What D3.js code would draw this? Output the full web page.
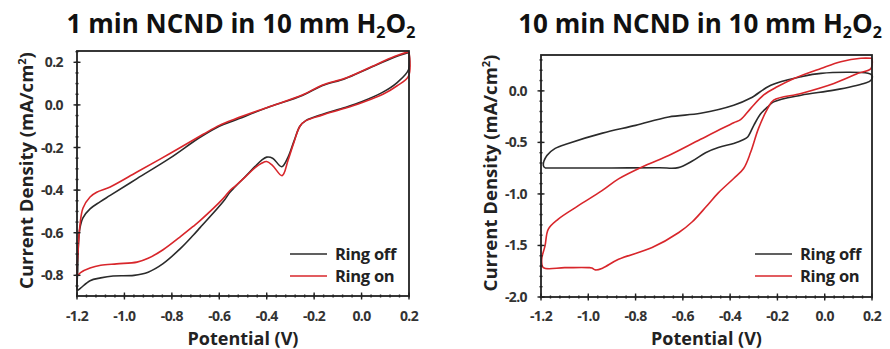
<!DOCTYPE html>
<html>
<head>
<meta charset="utf-8">
<script src="https://cdn.jsdelivr.net/npm/d3@7"></script>
<style>
  html, body { margin: 0; padding: 0; background: #fff; }
  svg { display: block; }
  text { font-family: "Open Sans", Lato, sans-serif; font-weight: 700; }
</style>
</head>
<body>
<svg id="chart" width="890" height="349"></svg>
<script>
// Potential axis, shared by both panels (V)
const potentialTicks = [-1.2, -1.0, -0.8, -0.6, -0.4, -0.2, 0.0, 0.2];
const currentTicks1 = [0.2, 0.0, -0.2, -0.4, -0.6, -0.8];
const currentTicks10 = [0.0, -0.5, -1.0, -1.5, -2.0];
const seriesNames = ["Ring off", "Ring on"];

// 1 min NCND: cyclic voltammograms [potential V, current density mA/cm²]
const ringOff1 = [
  [0.2, 0.246], [0.141, 0.225], [0.027, 0.17], [-0.07, 0.123], [-0.167, 0.09],
  [-0.25, 0.044], [-0.393, -0.011], [-0.534, -0.072], [-0.6, -0.1], [-0.681, -0.152],
  [-0.808, -0.25], [-0.947, -0.346], [-1.06, -0.425], [-1.103, -0.455], [-1.145, -0.488],
  [-1.175, -0.53], [-1.188, -0.58], [-1.194, -0.65], [-1.197, -0.78], [-1.198, -0.87],
  [-1.185, -0.86], [-1.145, -0.825], [-1.1, -0.812], [-1.048, -0.803], [-0.96, -0.8],
  [-0.9, -0.785], [-0.837, -0.745], [-0.76, -0.67], [-0.71, -0.612], [-0.68, -0.575],
  [-0.584, -0.455], [-0.555, -0.41], [-0.534, -0.385], [-0.49, -0.336], [-0.45, -0.29],
  [-0.42, -0.258], [-0.4, -0.245], [-0.375, -0.25], [-0.337, -0.29], [-0.31, -0.245],
  [-0.285, -0.17], [-0.26, -0.1], [-0.235, -0.074], [-0.167, -0.045], [-0.07, -0.012],
  [0.0, 0.015], [0.09, 0.06], [0.15, 0.105], [0.198, 0.165], [0.2, 0.246]
];
const ringOn1 = [
  [0.2, 0.25], [0.141, 0.228], [0.027, 0.172], [-0.07, 0.125], [-0.167, 0.092],
  [-0.25, 0.046], [-0.393, -0.01], [-0.534, -0.066], [-0.6, -0.096], [-0.668, -0.138],
  [-0.808, -0.228], [-0.947, -0.315], [-1.06, -0.385], [-1.117, -0.41], [-1.145, -0.432],
  [-1.175, -0.485], [-1.187, -0.56], [-1.195, -0.68], [-1.198, -0.8],
  [-1.185, -0.787], [-1.145, -0.766], [-1.1, -0.753], [-1.033, -0.746], [-0.947, -0.738],
  [-0.9, -0.72], [-0.837, -0.68], [-0.76, -0.615], [-0.71, -0.57], [-0.681, -0.543],
  [-0.584, -0.44], [-0.555, -0.402], [-0.534, -0.382], [-0.49, -0.338], [-0.45, -0.296],
  [-0.42, -0.273], [-0.4, -0.266], [-0.375, -0.285], [-0.335, -0.332], [-0.31, -0.26],
  [-0.285, -0.175], [-0.26, -0.1], [-0.235, -0.074], [-0.167, -0.048], [-0.07, -0.016],
  [0.0, 0.01], [0.09, 0.05], [0.15, 0.09], [0.198, 0.135], [0.2, 0.25]
];

// 10 min NCND
const ringOff10 = [
  [-1.183, -0.748], [-1.1, -0.749], [-0.9, -0.748], [-0.7, -0.746], [-0.619, -0.745],
  [-0.56, -0.68], [-0.504, -0.6], [-0.45, -0.55], [-0.385, -0.51], [-0.345, -0.475],
  [-0.326, -0.448], [-0.3, -0.334], [-0.27, -0.22], [-0.241, -0.156], [-0.216, -0.107],
  [-0.1, -0.042], [0.039, 0.007], [0.166, 0.072], [0.196, 0.104], [0.2, 0.15],
  [0.183, 0.17], [-0.016, 0.17], [-0.1, 0.137], [-0.228, 0.055], [-0.313, -0.07],
  [-0.385, -0.14], [-0.525, -0.218], [-0.66, -0.253], [-0.8, -0.335], [-0.94, -0.41],
  [-1.085, -0.51], [-1.14, -0.558], [-1.175, -0.627], [-1.19, -0.724], [-1.183, -0.748]
];
const ringOn10 = [
  [0.2, 0.316], [0.153, 0.316], [0.068, 0.283], [-0.016, 0.218], [-0.13, 0.121],
  [-0.199, 0.042], [-0.258, -0.04], [-0.313, -0.17], [-0.356, -0.28], [-0.385, -0.31],
  [-0.525, -0.47], [-0.66, -0.627], [-0.759, -0.724], [-0.872, -0.854], [-0.942, -0.968],
  [-1.042, -1.114], [-1.127, -1.244], [-1.169, -1.341], [-1.183, -1.504], [-1.197, -1.634],
  [-1.19, -1.715], [-1.1, -1.715], [-1.0, -1.715], [-0.985, -1.718], [-0.97, -1.737],
  [-0.94, -1.72], [-0.872, -1.634], [-0.73, -1.52], [-0.617, -1.374], [-0.56, -1.27],
  [-0.5, -1.12], [-0.45, -0.99], [-0.385, -0.85], [-0.343, -0.753], [-0.313, -0.594],
  [-0.28, -0.364], [-0.241, -0.17], [-0.216, -0.09], [-0.1, -0.025], [0.039, 0.072],
  [0.141, 0.17], [0.196, 0.218], [0.2, 0.316]
];

const colors = { off: "#2b2b2b", on: "#d8262b" };

const panels = [
  {
    title: ["1 min NCND in 10 mm H", "2", "O", "2"],
    left: 77, right: 409, top: 51, bottom: 296,
    yDomain: [-0.897, 0.253], yTicks: currentTicks1, yMinorStep: 0.05, yFormat: d3.format(".1f"),
    off: ringOff1, on: ringOn1, titleX: 241, legendX: 290
  },
  {
    title: ["10 min NCND in 10 mm H", "2", "O", "2"],
    left: 541, right: 872, top: 55, bottom: 297,
    yDomain: [-2.0, 0.348], yTicks: currentTicks10, yMinorStep: 0.1, yFormat: d3.format(".1f"),
    off: ringOff10, on: ringOn10, titleX: 700, legendX: 755
  }
];

const svg = d3.select("#chart");

panels.forEach(p => {
  const x = d3.scaleLinear().domain([-1.2, 0.2]).range([p.left, p.right]);
  const y = d3.scaleLinear().domain(p.yDomain).range([p.bottom, p.top]);
  const g = svg.append("g");

  // title with subscripts
  const t = g.append("text")
    .attr("x", p.titleX).attr("y", 33)
    .attr("text-anchor", "middle")
    .attr("font-size", 26).attr("fill", "#111");
  p.title.forEach((s, i) => {
    const sub = i % 2 === 1;
    t.append("tspan")
      .attr("font-size", sub ? 16 : 26)
      .attr("dy", sub ? 5 : (i === 0 ? 0 : -5))
      .text(s);
  });

  // curves
  const line = d3.line().x(d => x(d[0])).y(d => y(d[1])).curve(d3.curveCatmullRom.alpha(0.5));
  g.append("path").datum(p.off).attr("d", line)
    .attr("fill", "none").attr("stroke", colors.off).attr("stroke-width", 1.6);
  g.append("path").datum(p.on).attr("d", line)
    .attr("fill", "none").attr("stroke", colors.on).attr("stroke-width", 1.6);

  // frame
  g.append("rect")
    .attr("x", p.left).attr("y", p.top)
    .attr("width", p.right - p.left).attr("height", p.bottom - p.top)
    .attr("fill", "none").attr("stroke", "#222").attr("stroke-width", 1.8);

  // bottom axis: major + minor ticks crossing the frame line
  const xMinor = d3.range(-1.2, 0.2001, 0.04);
  g.selectAll(".xminor").data(xMinor).join("line")
    .attr("x1", d => x(d)).attr("x2", d => x(d))
    .attr("y1", p.bottom - 1.5).attr("y2", p.bottom + 1.5)
    .attr("stroke", "#222").attr("stroke-width", 1.4);
  g.selectAll(".xmajor").data(potentialTicks).join("line")
    .attr("x1", d => x(d)).attr("x2", d => x(d))
    .attr("y1", p.bottom - 3.5).attr("y2", p.bottom + 3.5)
    .attr("stroke", "#222").attr("stroke-width", 1.4);
  g.selectAll(".xlab").data(potentialTicks).join("text")
    .attr("x", d => x(d)).attr("y", 320.5)
    .attr("text-anchor", "middle").attr("font-size", 14).attr("letter-spacing", -0.6)
    .attr("fill", "#333")
    .text(d => d3.format(".1f")(d).replace("−", "-"));

  // left axis
  const yMinor = d3.range(Math.ceil(p.yDomain[0] / p.yMinorStep) * p.yMinorStep, p.yDomain[1], p.yMinorStep);
  g.selectAll(".yminor").data(yMinor).join("line")
    .attr("y1", d => y(d)).attr("y2", d => y(d))
    .attr("x1", p.left - 1.5).attr("x2", p.left + 1.5)
    .attr("stroke", "#222").attr("stroke-width", 1.4);
  g.selectAll(".ymajor").data(p.yTicks).join("line")
    .attr("y1", d => y(d)).attr("y2", d => y(d))
    .attr("x1", p.left - 3.5).attr("x2", p.left + 3.5)
    .attr("stroke", "#222").attr("stroke-width", 1.4);
  g.selectAll(".ylab").data(p.yTicks).join("text")
    .attr("x", p.left - 14).attr("y", d => y(d) + 5)
    .attr("text-anchor", "end").attr("font-size", 14).attr("letter-spacing", -0.6)
    .attr("fill", "#333")
    .text(d => p.yFormat(d).replace("−", "-"));

  // axis titles
  g.append("text")
    .attr("x", (p.left + p.right) / 2).attr("y", 344.5)
    .attr("text-anchor", "middle").attr("font-size", 18).attr("fill", "#222")
    .text("Potential (V)");
  const yl = g.append("text")
    .attr("transform", `translate(${p.left - 44},${(p.top + p.bottom) / 2 - 3}) rotate(-90)`)
    .attr("text-anchor", "middle").attr("font-size", 18.5).attr("fill", "#222");
  yl.append("tspan").text("Current Density (mA/cm");
  yl.append("tspan").attr("font-size", 11).attr("dy", -7).text("2");
  yl.append("tspan").attr("dy", 7).text(")");

  // legend
  const leg = g.append("g");
  seriesNames.forEach((name, i) => {
    const ly = 254 + i * 22;
    leg.append("line")
      .attr("x1", p.legendX).attr("x2", p.legendX + 37)
      .attr("y1", ly).attr("y2", ly)
      .attr("stroke", i === 0 ? colors.off : colors.on).attr("stroke-width", 1.6);
    leg.append("text")
      .attr("x", p.legendX + 45).attr("y", ly + 6)
      .attr("font-size", 16.5).attr("letter-spacing", -0.3).attr("fill", "#222")
      .text(name);
  });
});
</script>
</body>
</html>
